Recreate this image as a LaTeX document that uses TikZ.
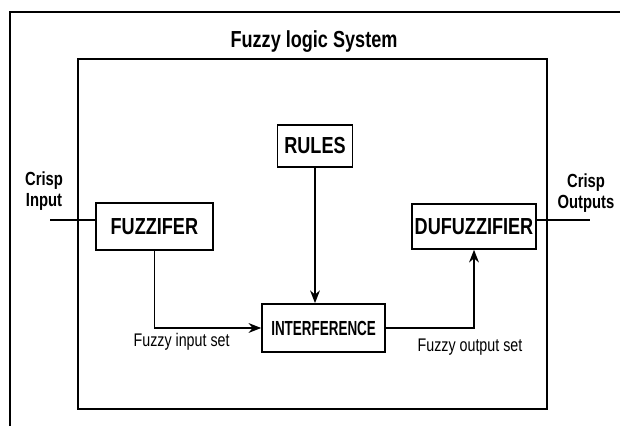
\documentclass[tikz,border=0pt]{standalone}
\usepackage{fontspec}
\setmainfont{Liberation Sans}[FakeStretch=0.78]
\usetikzlibrary{calc, arrows.meta}

\begin{document}
\begin{tikzpicture}[>={Stealth[length=9pt, width=7pt]},
		blk/.style={draw, line width=1.3pt, inner sep=0pt, font=\bfseries\fontsize{16.5}{18}\selectfont},
		lbl/.style={font=\bfseries\fontsize{13.5}{15.5}\selectfont, align=center},
		setlbl/.style={font=\fontsize{13}{15}\selectfont}]
		\useasboundingbox (0,0) rectangle (15.5,10.65);

		% page frame and system box
		\draw[line width=0.8pt] (0.25,0) -- (0.25,10.35) -- (15.5,10.35);
		\draw[line width=1pt] (1.95,0.425) rectangle (13.675,9.175);
		\node[font=\bfseries\fontsize{16.5}{18}\selectfont] (title) at (7.85,9.6) {Fuzzy logic System};

		\node[blk, minimum width=1.875cm, minimum height=1.05cm] (rules) at (7.875,7.0) {RULES};
		\node[blk, minimum width=2.925cm, minimum height=1.175cm] (fuzz) at (3.86,4.99) {FUZZIFER};
		\node[blk, minimum width=3.1cm, minimum height=1.125cm] (defuzz) at (11.85,4.99) {DUFUZZIFIER};
		\node[blk, minimum width=3.075cm, minimum height=1.2cm, font=\bfseries\fontsize{14.5}{16}\selectfont\addfontfeature{FakeStretch=0.66}] (inter) at (8.09,2.45) {INTERFERENCE};

		\coordinate (cin) at (1.25,5.15);
		\coordinate (cout) at (14.75,5.15);
		\node[lbl] (inlbl) at (1.1,5.875) {Crisp\\Input};
		\node[lbl] (outlbl) at (14.65,5.825) {Crisp\\Outputs};
		\node[setlbl] (fin) at (4.54,2.1) {Fuzzy input set};
		\node[setlbl] (fout) at (11.75,1.975) {Fuzzy output set};

		\draw[line width=1pt] (cin) -- (cin -| fuzz.west);
		\draw[line width=1pt] (cout -| defuzz.east) -- (cout);
		\draw[line width=1pt, ->] (rules.south) -- (rules.south |- inter.north);
		\draw[line width=1pt, ->] (fuzz.south) |- (inter.west);
		\draw[line width=1pt, ->] (inter.east) -| (defuzz.south);
	\end{tikzpicture}
\end{document}
